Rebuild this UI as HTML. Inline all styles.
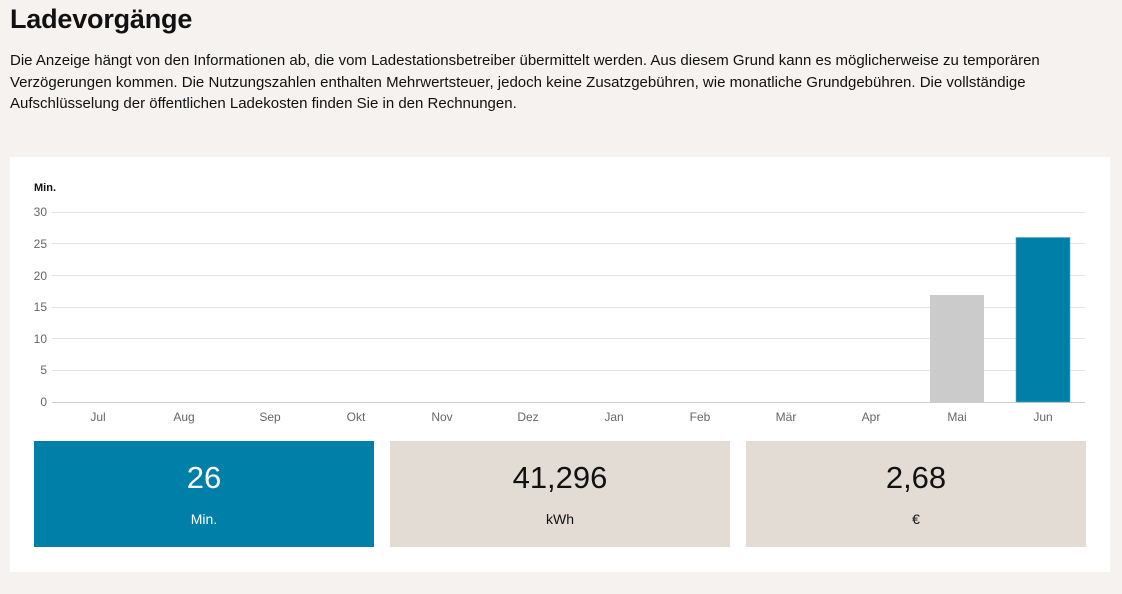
<!DOCTYPE html>
<html><head><meta charset="utf-8"><style>
*{margin:0;padding:0;box-sizing:border-box}
body{width:1122px;height:594px;background:#f5f2f0;font-family:"Liberation Sans",sans-serif;color:#111;position:relative;overflow:hidden}
h1{position:absolute;left:10px;top:4px;font-size:27px;font-weight:bold;letter-spacing:-0.2px}
p{position:absolute;left:10px;top:50px;width:1060px;font-size:15px;line-height:21.5px}
.card{position:absolute;left:10px;top:157px;width:1100px;height:415px;background:#fff}
.box{position:absolute;top:441px;width:340px;height:106px;text-align:center}
.box .n{position:absolute;top:19px;width:100%;font-size:31px}
.box .l{position:absolute;top:70px;width:100%;font-size:14px}
</style></head><body>
<h1>Ladevorgänge</h1>
<p>Die Anzeige hängt von den Informationen ab, die vom Ladestationsbetreiber übermittelt werden. Aus diesem Grund kann es möglicherweise zu temporären Verzögerungen kommen. Die Nutzungszahlen enthalten Mehrwertsteuer, jedoch keine Zusatzgebühren, wie monatliche Grundgebühren. Die vollständige Aufschlüsselung der öffentlichen Ladekosten finden Sie in den Rechnungen.</p>
<div class="card"></div>
<svg style="position:absolute;left:0;top:0" width="1122" height="594" font-family="Liberation Sans, sans-serif">
<text x="34" y="191" font-size="11" font-weight="bold" fill="#111">Min.</text>
<g stroke="#e3e3e3" stroke-width="1">
<line x1="52" x2="1085" y1="212.5" y2="212.5"/><line x1="52" x2="1085" y1="243.5" y2="243.5"/>
<line x1="52" x2="1085" y1="275.5" y2="275.5"/><line x1="52" x2="1085" y1="307.5" y2="307.5"/>
<line x1="52" x2="1085" y1="338.5" y2="338.5"/><line x1="52" x2="1085" y1="370.5" y2="370.5"/>
</g>
<line x1="52" x2="1085" y1="402.5" y2="402.5" stroke="#ccc"/>
<g font-size="12" fill="#666" text-anchor="end">
<text x="47" y="216">30</text><text x="47" y="248">25</text><text x="47" y="280">20</text>
<text x="47" y="311">15</text><text x="47" y="343">10</text><text x="47" y="374">5</text><text x="47" y="406">0</text>
</g>
<rect x="930" y="295" width="54" height="107" fill="#cbcbcb"/>
<rect x="1016" y="237.5" width="54" height="164.5" fill="#007fa8" stroke="#5aaac5" stroke-width="0.6"/>
<g font-size="12" fill="#666" text-anchor="middle">
<text x="98" y="421">Jul</text><text x="184" y="421">Aug</text><text x="270" y="421">Sep</text>
<text x="356" y="421">Okt</text><text x="442" y="421">Nov</text><text x="528" y="421">Dez</text>
<text x="614" y="421">Jan</text><text x="700" y="421">Feb</text><text x="786" y="421">Mär</text>
<text x="871" y="421">Apr</text><text x="957" y="421">Mai</text><text x="1043" y="421">Jun</text>
</g>
</svg>
<div class="box" style="left:34px;background:#007fa8;color:#fff"><div class="n">26</div><div class="l">Min.</div></div>
<div class="box" style="left:390px;background:#e3dcd4"><div class="n">41,296</div><div class="l">kWh</div></div>
<div class="box" style="left:746px;background:#e3dcd4"><div class="n">2,68</div><div class="l">€</div></div>
</body></html>
